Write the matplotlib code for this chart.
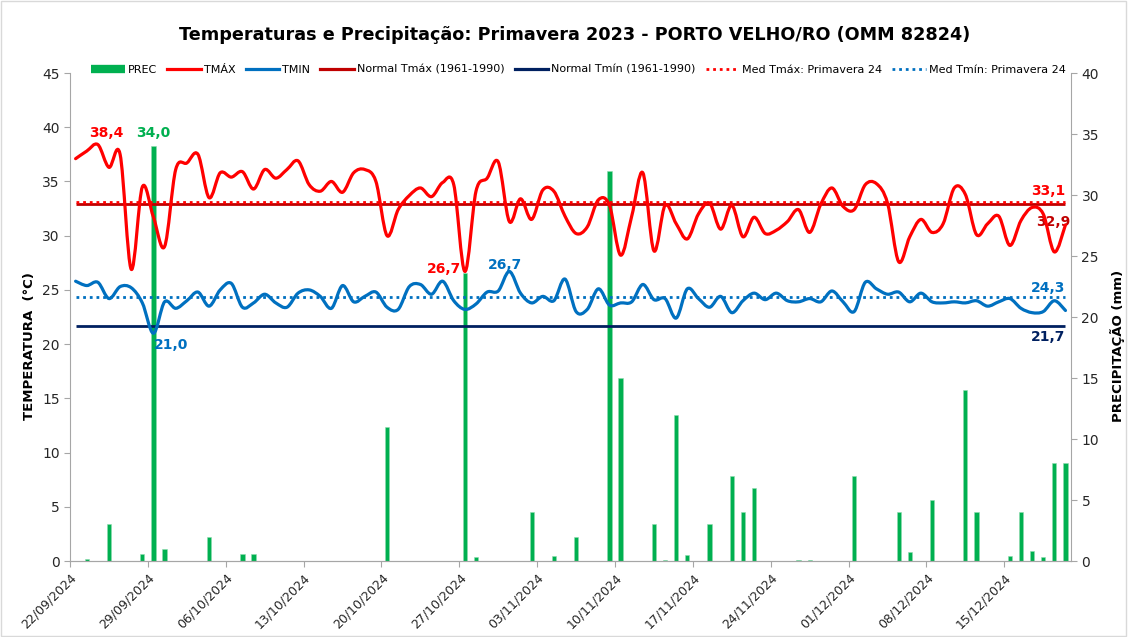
import matplotlib
matplotlib.use("Agg")
import matplotlib.pyplot as plt  # noqa: E402
import matplotlib.dates as mdates  # noqa: E402
import numpy as np  # noqa: E402
import pandas as pd  # noqa: E402
from matplotlib.lines import Line2D  # noqa: E402
from matplotlib.patches import PathPatch, Rectangle  # noqa: E402
from matplotlib.path import Path  # noqa: E402

# --- data (daily, 22/09/2024 .. 20/12/2024) ---
START = "2024-09-22"
TMAX = [37.1, 37.8, 38.4, 36.3, 37.5, 26.9, 34.5, 31.7, 29.0, 36.1,
        36.7, 37.5, 33.5, 35.8, 35.4, 35.9, 34.3, 36.1, 35.3, 36.1,
        36.9, 34.7, 34.1, 35.0, 34.0, 35.8, 36.1, 35.0, 30.0, 32.4,
        33.7, 34.4, 33.6, 34.9, 34.7, 26.7, 34.1, 35.3, 36.8, 31.3,
        33.4, 31.5, 34.2, 34.1, 31.8, 30.2, 30.8, 33.3, 32.8, 28.2,
        31.8, 35.8, 28.6, 32.8, 31.1, 29.7, 32.0, 33.0, 30.6, 32.8,
        29.9, 31.7, 30.2, 30.5, 31.3, 32.4, 30.3, 32.9, 34.4, 32.7,
        32.4, 34.7, 34.8, 33.0, 27.6, 29.9, 31.5, 30.3, 31.1, 34.4,
        33.8, 30.1, 31.1, 31.8, 29.1, 31.4, 32.6, 32.0, 28.5, 31.0]
TMIN = [25.8, 25.4, 25.7, 24.2, 25.3, 25.2, 23.8, 21.0, 23.9, 23.3,
        24.0, 24.8, 23.5, 25.0, 25.6, 23.4, 23.8, 24.6, 23.8, 23.4,
        24.7, 25.0, 24.4, 23.3, 25.4, 23.9, 24.4, 24.8, 23.4, 23.2,
        25.3, 25.5, 24.6, 25.8, 24.0, 23.2, 23.7, 24.8, 24.9, 26.7,
        24.7, 23.8, 24.4, 24.0, 26.0, 23.0, 23.2, 25.1, 23.6, 23.8,
        23.9, 25.5, 24.1, 24.2, 22.4, 25.1, 24.2, 23.4, 24.4, 22.9,
        24.0, 24.7, 24.1, 24.7, 24.0, 23.9, 24.2, 23.9, 24.9, 23.9,
        23.0, 25.7, 25.1, 24.6, 24.8, 23.9, 24.7, 23.9, 23.8, 23.9,
        23.8, 24.0, 23.5, 23.9, 24.2, 23.3, 22.9, 23.0, 24.0, 23.1]
PREC = [0.0, 0.2, 0.0, 3.0, 0.0, 0.0, 0.6, 34.0, 1.0, 0.0,
        0.0, 0.0, 2.0, 0.0, 0.0, 0.6, 0.6, 0.0, 0.0, 0.0,
        0.0, 0.0, 0.0, 0.0, 0.0, 0.0, 0.0, 0.0, 11.0, 0.0,
        0.0, 0.0, 0.0, 0.0, 0.0, 23.6, 0.3, 0.0, 0.0, 0.0,
        0.0, 4.0, 0.0, 0.4, 0.0, 2.0, 0.0, 0.0, 32.0, 15.0,
        0.0, 0.0, 3.0, 0.1, 12.0, 0.5, 0.0, 3.0, 0.0, 7.0,
        4.0, 6.0, 0.0, 0.0, 0.0, 0.1, 0.1, 0.0, 0.0, 0.0,
        7.0, 0.0, 0.0, 0.0, 4.0, 0.7, 0.0, 5.0, 0.0, 0.0,
        14.0, 4.0, 0.0, 0.0, 0.4, 4.0, 0.8, 0.3, 8.0, 8.0]
NORMAL_TMAX = 32.9
NORMAL_TMIN = 21.7
MED_TMAX = 33.1
MED_TMIN = 24.3

C_PREC = "#00B050"
C_TMAX = "#FF0000"
C_TMIN = "#0070C0"
C_NTMAX = "#C00000"
C_NTMIN = "#002060"
GREY = "#A6A6A6"

plt.rcParams["font.family"] = ["DejaVu Sans"]


def smooth_path(xs, ys):
    """Excel-like smoothed line: Catmull-Rom segments as cubic Beziers through the data points."""
    p = np.column_stack([xs, ys])
    n = len(p)
    verts, codes = [p[0]], [Path.MOVETO]
    for i in range(n - 1):
        p0 = p[i - 1] if i > 0 else p[i]
        p3 = p[i + 2] if i + 2 < n else p[i + 1]
        verts += [p[i] + (p[i + 1] - p0) / 6, p[i + 1] - (p3 - p[i]) / 6, p[i + 1]]
        codes += [Path.CURVE4] * 3
    return Path(verts, codes)


days = pd.date_range(START, periods=len(TMAX), freq="D")
x0 = mdates.date2num(days[0])
xc = mdates.date2num(days) + 0.5          # values sit mid-day between the weekly ticks
weeks = pd.date_range(START, days[-1], freq="7D")

fig = plt.figure(figsize=(11.28, 6.37), dpi=100)
ax = fig.add_axes([0.0621, 0.1193, 0.8874, 0.7661])
ax2 = ax.twinx()
ax.set_zorder(2)
ax.patch.set_visible(False)

# precipitation bars (secondary axis)
ax2.bar(xc, PREC, width=0.38, color=C_PREC, edgecolor="#8fdcaf", linewidth=0.4)
ax2.set_ylim(0, 40)
ax2.set_yticks(range(0, 41, 5))

# temperatures (primary axis)
ax.add_patch(PathPatch(smooth_path(xc, TMAX), fill=False, edgecolor=C_TMAX, lw=2.3,
                       capstyle="round", joinstyle="round", zorder=4))
ax.add_patch(PathPatch(smooth_path(xc, TMIN), fill=False, edgecolor=C_TMIN, lw=2.3,
                       capstyle="round", joinstyle="round", zorder=4))
ax.hlines(NORMAL_TMAX, xc[0], xc[-1], color=C_NTMAX, lw=2.0, zorder=3)
ax.hlines(NORMAL_TMIN, xc[0], xc[-1], color=C_NTMIN, lw=2.0, zorder=3)
ax.hlines(MED_TMAX, xc[0], xc[-1], color=C_TMAX, lw=2.0, linestyles=(0, (1, 1.4)), zorder=3)
ax.hlines(MED_TMIN, xc[0], xc[-1], color=C_TMIN, lw=2.0, linestyles=(0, (1, 1.4)), zorder=3)

ax.set_ylim(0, 45)
ax.set_yticks(range(0, 46, 5))
ax.set_xlim(x0, x0 + len(TMAX))
ax.set_xticks(mdates.date2num(weeks))
ax.set_xticklabels([d.strftime("%d/%m/%Y") for d in weeks], rotation=45, ha="right",
                   rotation_mode="anchor", fontsize=9, color="#262626")

for a in (ax, ax2):
    a.spines["top"].set_visible(False)
    for s in ("left", "right", "bottom"):
        a.spines[s].set_color(GREY)
    a.tick_params(axis="both", colors=GREY, labelcolor="#262626", labelsize=10, length=4)
ax.spines["right"].set_visible(False)
ax2.spines["left"].set_visible(False)
ax.tick_params(axis="x", labelsize=9)

ax.set_ylabel("TEMPERATURA  (°C)", fontsize=9.5, fontweight="bold", color="#000000")
ax.yaxis.set_label_coords(-0.034, 0.44)
ax2.set_ylabel("PRECIPITAÇÃO (mm)", fontsize=9.5, fontweight="bold", color="#000000", rotation=90)
ax2.yaxis.set_label_coords(1.039, 0.44)

# value labels
lab = dict(fontsize=10, fontweight="bold", va="center")
d = lambda i: xc[i]  # noqa: E731
ax.text(d(2) + 0.8, 39.5, "38,4", color=C_TMAX, ha="center", **lab)
ax.text(d(7), 39.5, "34,0", color=C_PREC, ha="center", **lab)
ax.text(d(7), 19.9, "21,0", color=C_TMIN, ha="left", **lab)
ax.text(d(35) - 0.3, 26.9, "26,7", color=C_TMAX, ha="right", **lab)
ax.text(d(39) - 0.4, 27.3, "26,7", color=C_TMIN, ha="center", **lab)
ax.text(d(89), 34.1, "33,1", color=C_TMAX, ha="right", **lab)
ax.text(d(89) + 0.45, 31.3, "32,9", color=C_NTMAX, ha="right", **lab)
ax.text(d(89), 25.2, "24,3", color=C_TMIN, ha="right", **lab)
ax.text(d(89), 20.7, "21,7", color=C_NTMIN, ha="right", **lab)

handles = [
    Line2D([], [], color=C_PREC, lw=6, solid_capstyle="butt"),
    Line2D([], [], color=C_TMAX, lw=2.3),
    Line2D([], [], color=C_TMIN, lw=2.3),
    Line2D([], [], color=C_NTMAX, lw=2.3),
    Line2D([], [], color=C_NTMIN, lw=2.3),
    Line2D([], [], color=C_TMAX, lw=2.0, ls=(0, (1, 1.4))),
    Line2D([], [], color=C_TMIN, lw=2.0, ls=(0, (1, 1.4))),
]
labels = ["PREC", "TMÁX", "TMIN", "Normal Tmáx (1961-1990)", "Normal Tmín (1961-1990)",
          "Med Tmáx: Primavera 24", "Med Tmín: Primavera 24"]
fig.legend(handles, labels, loc="center", bbox_to_anchor=(0.513, 1 - 70 / 637), ncol=7,
           frameon=False, fontsize=8, handlelength=3.0, handletextpad=0.3, columnspacing=0.9)

fig.text(0.509, 1 - 35 / 637,
         "Temperaturas e Precipitação: Primavera 2023 - PORTO VELHO/RO (OMM 82824)",
         ha="center", va="center", fontsize=12.7, fontweight="bold")
fig.patches.append(Rectangle((0.001, 0.002), 0.997, 0.996, transform=fig.transFigure,
                             fill=False, edgecolor="#D9D9D9", lw=1))

fig.savefig("out.png", dpi=100)
